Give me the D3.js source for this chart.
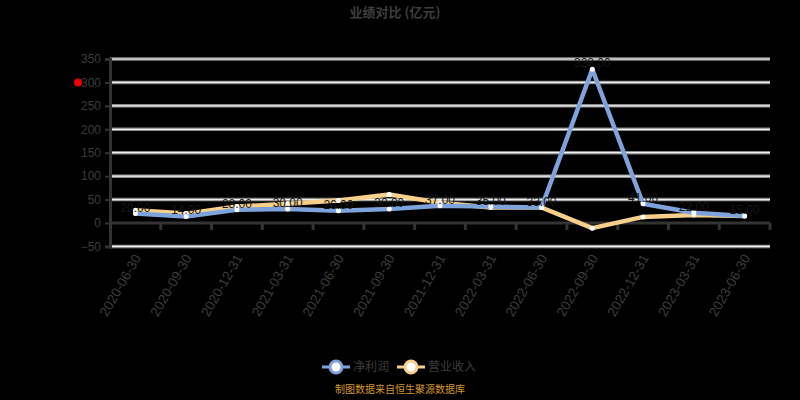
<!DOCTYPE html>
<html><head><meta charset="utf-8">
<script src="https://cdn.jsdelivr.net/npm/d3@7"></script>
<style>body{margin:0;background:#000}svg{display:block}</style>
</head><body><svg width="800" height="400"></svg>
<script>
const categories = ["2020-06-30","2020-09-30","2020-12-31","2021-03-31","2021-06-30","2021-09-30","2021-12-31","2022-03-31","2022-06-30","2022-09-30","2022-12-31","2023-03-31","2023-06-30"];
const seriesNames = ["净利润","营业收入"];
const blueValues = [20, 14, 28, 30, 26, 30, 37, 35, 33, 328, 41, 22, 15];
const orangeValues = [27, 20, 35, 41, 48, 61, 43, 33, 33, -11, 13, 17, 15];
const yTicks = [-50, 0, 50, 100, 150, 200, 250, 300, 350];
const chartTitle = "业绩对比 (亿元)";
const sourceText = "制图数据来自恒生聚源数据库";

(function () {
const svg = d3.select("svg");
const left = 110, right = 770;
const y = d3.scaleLinear().domain([-50, 350]).range([246.4, 59]);
const x = d3.scaleBand().domain(categories).range([left, right]);
const cx = d => x(d) + x.bandwidth() / 2;
const txt = "#3d3d3d";

svg.append("text").attr("x", 395).attr("y", 17).attr("text-anchor", "middle")
  .attr("fill", txt).attr("font-size", 13).attr("font-weight", "bold")
  .attr("font-family", "Noto Sans CJK SC").text(chartTitle);

// gridlines
const g = svg.append("g");
yTicks.filter(t => t !== 0).forEach(t => {
  g.append("line").attr("x1", left).attr("x2", right).attr("y1", y(t)).attr("y2", y(t))
    .attr("stroke", "#8a8a8a").attr("stroke-width", 3.5);
  g.append("line").attr("x1", left).attr("x2", right).attr("y1", y(t)).attr("y2", y(t))
    .attr("stroke", "#f2f2f2").attr("stroke-width", 1.2);
});

// y axis
const yAxis = svg.append("g").attr("transform", `translate(${left},0)`)
  .call(d3.axisLeft(y).tickValues(yTicks).tickSize(5).tickPadding(4));
yAxis.select(".domain").attr("stroke", "#333").attr("stroke-width", 3);
yAxis.selectAll(".tick line").attr("stroke", "#333").attr("stroke-width", 2);
yAxis.selectAll("text").attr("fill", txt).attr("font-size", 12).attr("font-family", "Liberation Sans");

// x axis at zero
svg.append("line").attr("x1", left).attr("x2", right).attr("y1", y(0)).attr("y2", y(0))
  .attr("stroke", "#333").attr("stroke-width", 3);
svg.append("g").selectAll("line").data(categories).join("line")
  .attr("x1", d => x(d) + x.bandwidth()).attr("x2", d => x(d) + x.bandwidth())
  .attr("y1", y(0)).attr("y2", y(0) + 7).attr("stroke", "#333").attr("stroke-width", 3);
svg.append("g").selectAll("text").data(categories).join("text")
  .attr("transform", d => `translate(${cx(d) + 2},${y(-50) + 9}) rotate(-60)`)
  .attr("text-anchor", "end").attr("dy", "0.35em")
  .attr("fill", txt).attr("font-size", 13.5).attr("font-family", "Liberation Sans").text(d => d);

// red marker
svg.append("circle").attr("cx", 78).attr("cy", y(300)).attr("r", 4).attr("fill", "#e00");

const blue = "#7ea3dc", orange = "#f6d08a";
const line = d3.line().x((d, i) => cx(categories[i])).y(d => y(d));
[[orangeValues, orange], [blueValues, blue]].forEach(([vals, col]) => {
  svg.append("path").datum(vals).attr("d", line).attr("fill", "none")
    .attr("stroke", col).attr("stroke-width", 4.5).attr("stroke-linejoin", "round");
  svg.append("g").selectAll("circle").data(vals).join("circle")
    .attr("cx", (d, i) => cx(categories[i])).attr("cy", d => y(d)).attr("r", 2.5)
    .attr("fill", "#fff");
});
svg.append("g").selectAll("text").data(blueValues).join("text")
  .attr("x", (d, i) => cx(categories[i])).attr("y", d => y(d) - 2)
  .attr("text-anchor", "middle").attr("fill", "#161616").attr("font-size", 12)
  .attr("font-family", "Liberation Sans").text(d => d.toFixed(2));

// legend
const leg = [[seriesNames[0], blue, 322], [seriesNames[1], orange, 397]];
leg.forEach(([name, col, lx]) => {
  svg.append("line").attr("x1", lx).attr("x2", lx + 28).attr("y1", 367).attr("y2", 367)
    .attr("stroke", col).attr("stroke-width", 3);
  svg.append("circle").attr("cx", lx + 14).attr("cy", 367).attr("r", 6)
    .attr("fill", "#fff").attr("stroke", col).attr("stroke-width", 3);
  svg.append("text").attr("x", lx + 31).attr("y", 367).attr("dy", "0.35em")
    .attr("fill", txt).attr("font-size", 12).attr("font-family", "Noto Sans CJK SC").text(name);
});
svg.append("text").attr("x", 400).attr("y", 393).attr("text-anchor", "middle")
  .attr("fill", "#d3982c").attr("font-size", 10).attr("font-family", "Noto Sans CJK SC").text(sourceText);
})();
</script></body></html>
